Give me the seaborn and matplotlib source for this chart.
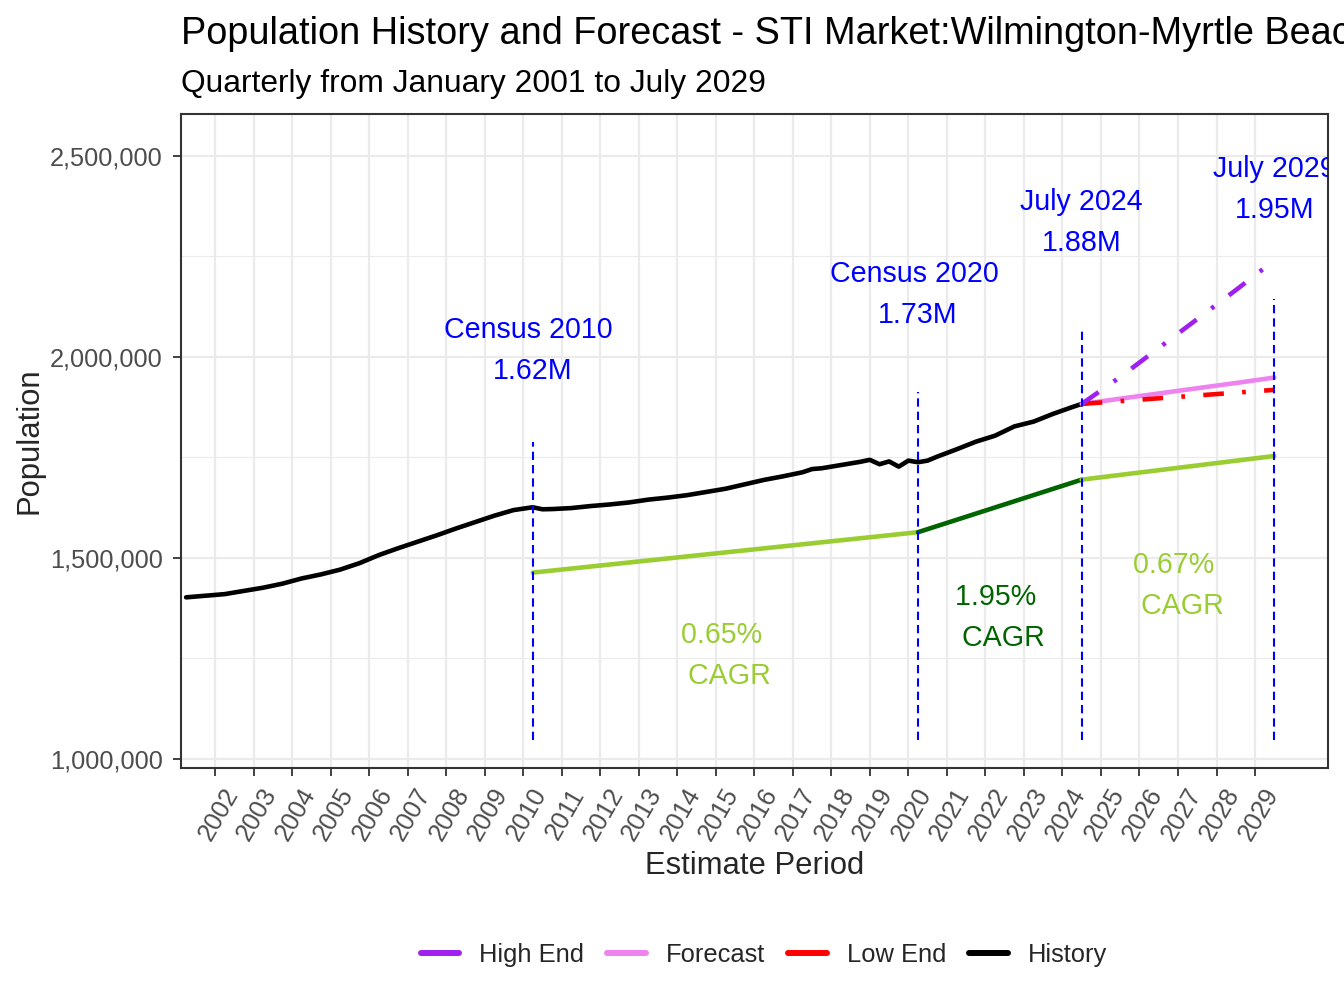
import matplotlib
matplotlib.use("Agg")
import matplotlib.pyplot as plt
import matplotlib.transforms as mtransforms
from matplotlib.lines import Line2D
from matplotlib.ticker import FuncFormatter, MultipleLocator
import seaborn as sns
import pandas as pd


# quarterly history
hist_x = [2001.25, 2001.75, 2002.25, 2002.75, 2003.25, 2003.75, 2004.25, 2004.75,
          2005.25, 2005.75, 2006.25, 2006.75, 2007.25, 2007.75, 2008.25, 2008.75,
          2009.25, 2009.75, 2010.25, 2010.5, 2010.75, 2011.25, 2011.75, 2012.25,
          2012.75, 2013.25, 2013.75, 2014.25, 2014.75, 2015.25, 2015.75, 2016.25,
          2016.75, 2017.25, 2017.5, 2017.75, 2018.25, 2018.75, 2019.0, 2019.25,
          2019.5, 2019.75, 2020.0, 2020.25, 2020.5, 2020.75, 2021.25, 2021.75,
          2022.25, 2022.75, 2023.25, 2023.75, 2024.25, 2024.5]
hist_y = [1402000, 1406000, 1410000, 1418000, 1426000, 1436000, 1449000, 1459000,
          1471000, 1487000, 1507000, 1524000, 1540000, 1556000, 1573000, 1589000,
          1605000, 1619000, 1626000, 1621000, 1621500, 1624000, 1629000, 1633000,
          1638000, 1645000, 1650000, 1656000, 1664000, 1672000, 1683000, 1694000,
          1703000, 1713000, 1721000, 1723000, 1731000, 1739000, 1744000, 1733000,
          1740000, 1727000, 1742000, 1738000, 1742000, 1752000, 1770000, 1789000,
          1804000, 1827000, 1839000, 1858000, 1875000, 1883000]

fc_x = [2024.5, 2025.5, 2026.5, 2027.5, 2028.5, 2029.5]
high_y = [1883000, 1950000, 2022000, 2094000, 2166000, 2240000]
mid_y = [1883000, 1896000, 1909000, 1922000, 1935000, 1948500]
low_y = [1883000, 1890000, 1897000, 1904000, 1911000, 1918000]

cagr_x = [2010.25, 2020.25, 2024.5, 2029.5]
cagr_y = [1463500, 1564000, 1694700, 1753500]
cagr_labels = ["0.65% \n CAGR", "1.95% \n CAGR", "0.67% \n CAGR"]
cagr_colors = ["yellowgreen", "darkgreen", "yellowgreen"]

mark_x = [2010.25, 2020.25, 2024.5, 2029.5]
mark_pop = [1626000, 1738000, 1883000, 1948500]
mark_labels = ["Census 2010 \n1.62M", "Census 2020 \n1.73M", "July 2024\n1.88M", "July 2029\n1.95M"]
vline_top = [1788600, 1911800, 2071300, 2143350]
vline_bottom = 1047000

years = list(range(2002, 2030))

series_names = ["High End", "Forecast", "Low End", "History"]
series_colors = ["#A020F0", "violet", "red", "black"]

sns.set_theme(style="white")
plt.rcParams["font.family"] = ["Liberation Sans", "DejaVu Sans"]

fig = plt.figure(figsize=(13.44, 10.08), dpi=100)
ax = fig.add_axes([181 / 1344, 1 - 768 / 1008, (1328 - 181) / 1344, (768 - 114) / 1008])

# grid
ax.set_axisbelow(True)
ax.xaxis.set_major_locator(plt.FixedLocator(years))
ax.yaxis.set_major_locator(MultipleLocator(500000))
ax.yaxis.set_minor_locator(MultipleLocator(250000))
ax.grid(which="major", color="#EBEBEB", lw=1.6)
ax.grid(which="minor", axis="y", color="#EBEBEB", lw=0.8)

lw = 3.3
dashdot = (0, (4.5, 4.0, 0.8, 4.0))

cagr_df = pd.DataFrame({"x": cagr_x, "y": cagr_y})
for i in range(3):
    seg = cagr_df.iloc[i:i + 2]
    sns.lineplot(data=seg, x="x", y="y", color=cagr_colors[i], lw=lw, ax=ax)

sns.lineplot(x=hist_x, y=hist_y, color="black", lw=lw, ax=ax)
sns.lineplot(x=fc_x, y=mid_y, color="violet", lw=lw, ax=ax)
sns.lineplot(x=fc_x, y=low_y, color="red", lw=lw, ls=dashdot, ax=ax)
sns.lineplot(x=fc_x, y=high_y, color="#A020F0", lw=lw, ls=dashdot, ax=ax)

ax.vlines(mark_x, vline_bottom, vline_top, colors="blue", lw=1.5,
          linestyles=(0, (4.0, 2.4)))

for x, pop, lab in zip(mark_x, mark_pop, mark_labels):
    ax.text(x, pop * 1.24, lab, color="blue", fontsize=20.6, ha="center",
            va="center", linespacing=1.6, clip_on=True)

for i in range(3):
    cx = (cagr_x[i] + cagr_x[i + 1]) / 2
    cy = (cagr_y[i] + cagr_y[i + 1]) / 2 * 0.83
    ax.text(cx, cy, cagr_labels[i], color=cagr_colors[i], fontsize=20.6,
            ha="center", va="center", linespacing=1.6, clip_on=True)

ax.set_xlim(2001.117, 2030.894)
ax.set_ylim(977600, 2604000)
ax.yaxis.set_major_formatter(FuncFormatter(lambda v, p: f"{int(v):,}"))
ax.set_xticklabels([str(y) for y in years], rotation=60, ha="right",
                   va="top", rotation_mode="anchor")
ax.tick_params(axis="both", which="major", length=6, width=1.3, color="#333333",
               labelsize=18.3, labelcolor="#4D4D4D", direction="out", pad=7,
               bottom=True, left=True)
ax.tick_params(axis="y", which="minor", length=0)
ax.set_xlabel("")
ax.set_ylabel("")
for sp in ax.spines.values():
    sp.set_color("#333333")
    sp.set_linewidth(1.5)

# nudge rotated year labels to sit like the original
shift = mtransforms.ScaledTranslation(7 / 100, 2 / 100, fig.dpi_scale_trans)
for lab in ax.get_xticklabels():
    lab.set_transform(lab.get_transform() + shift)

fig.text(181 / 1344, 1 - 44 / 1008,
         "Population History and Forecast - STI Market:Wilmington-Myrtle Beach",
         fontsize=27.3, ha="left", va="baseline", color="black")
fig.text(181 / 1344, 1 - 92 / 1008, "Quarterly from January 2001 to July 2029",
         fontsize=22.9, ha="left", va="baseline", color="black")
fig.text(754.5 / 1344, 1 - 866 / 1008, "Estimate Period", fontsize=22.3,
         ha="center", va="center")
fig.text(30 / 1344, 1 - 441 / 1008, "Population", fontsize=22.3, rotation=90,
         ha="center", va="center")

handles = [Line2D([], [], color=c, lw=4.3) for c in series_colors]
fig.legend(handles, series_names, loc="center", bbox_to_anchor=(764 / 1344, 1 - 955 / 1008),
           ncol=4, frameon=False, fontsize=18.4, handlelength=1.5,
           handletextpad=0.8, columnspacing=0.9)

fig.savefig("out.png", dpi=100)
